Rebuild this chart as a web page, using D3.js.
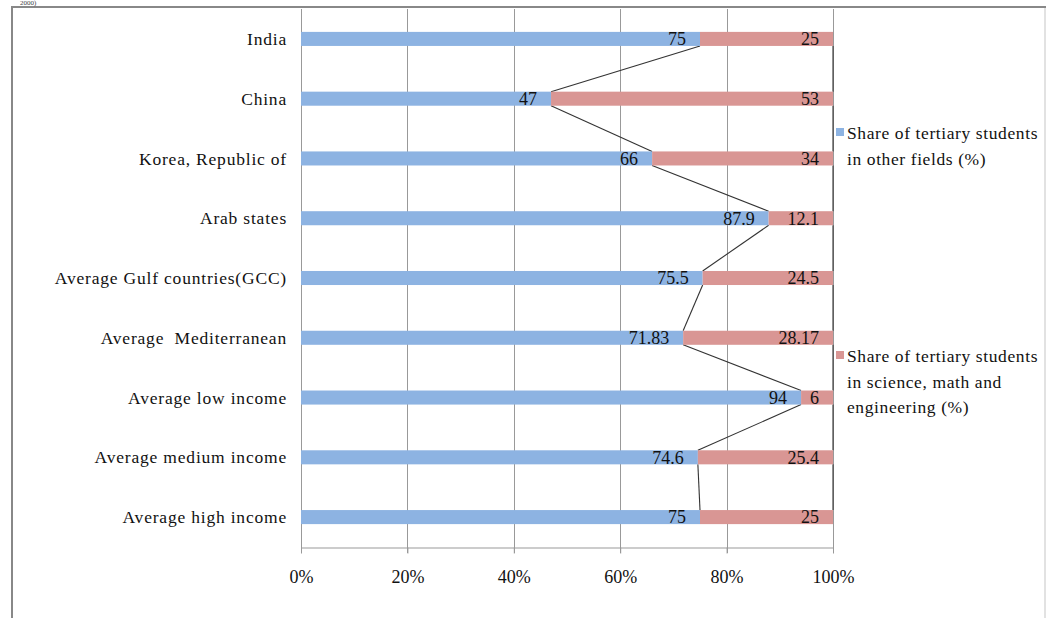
<!DOCTYPE html>
<html><head><meta charset="utf-8">
<script src="https://cdn.jsdelivr.net/npm/d3@7"></script>
<style>body{margin:0;background:#fff;}svg{display:block;}</style>
</head><body>
<svg id="c" width="1046" height="618"></svg>
<script>
const categories = ["India","China","Korea, Republic of","Arab states","Average Gulf countries(GCC)","Average  Mediterranean","Average low income","Average medium income","Average high income"];
const otherFields = [75, 47, 66, 87.9, 75.5, 71.83, 94, 74.6, 75];
const scienceMath = [25, 53, 34, 12.1, 24.5, 28.17, 6, 25.4, 25];
const tickValues = [0, 0.2, 0.4, 0.6, 0.8, 1.0];
const seriesNames = ["Share of tertiary students in other fields (%)", "Share of tertiary students in science, math and engineering (%)"];
const legendLines = [["Share of tertiary students","in other fields (%)"],["Share of tertiary students","in science, math and","engineering (%)"]];
const colors = ["#8db3e2", "#d99694"];

(function(){
const svg = d3.select("#c");
const font = "'Liberation Serif', 'Times New Roman', serif";
const pL = 301, pR = 833, pT = 9, pB = 547;

// frame
svg.append("path").attr("d", "M12,618 V7 H1046").attr("fill","none").attr("stroke","#888").attr("stroke-width",2);
svg.append("line").attr("x1",1045).attr("x2",1045).attr("y1",8).attr("y2",618).attr("stroke","#d9d9d9").attr("stroke-width",1.5);
svg.append("text").attr("x",20).attr("y",5).attr("font-family",font).attr("font-size",7).attr("fill","#444").text("2000)");

const x = d3.scaleLinear().domain([0,1]).range([pL,pR]);
const y = d3.scaleBand().domain(categories).range([pT,pB]).paddingInner(0.765).paddingOuter(0.383);

// gridlines
svg.append("g").selectAll("line").data(tickValues).join("line")
  .attr("x1",d=>Math.round(x(d))+0.5).attr("x2",d=>Math.round(x(d))+0.5)
  .attr("y1",pT).attr("y2",pB+6).attr("stroke","#999").attr("stroke-width",1);

// x axis
const xAxis = d3.axisBottom(x).tickValues(tickValues).tickFormat(d3.format(".0%")).tickSize(6).tickSizeOuter(0);
const gx = svg.append("g").attr("transform",`translate(0,${pB+0.5})`).call(xAxis);
gx.select(".domain").attr("stroke","#999");
gx.selectAll(".tick line").attr("stroke","#999");
gx.selectAll("text").attr("font-family",font).attr("font-size",18).attr("fill","#111").attr("dy","1.45em");

// y axis line
svg.append("line").attr("x1",pL+0.5).attr("x2",pL+0.5).attr("y1",pT).attr("y2",pB+6).attr("stroke","#999");

// category labels
svg.append("g").selectAll("text").data(categories).join("text")
  .attr("x",287).attr("y",d=>y(d)+y.bandwidth()/2).attr("dy","0.35em")
  .attr("text-anchor","end").attr("font-family",font).attr("font-size",17.5).attr("fill","#111")
  .attr("letter-spacing",0.8)
  .style("white-space","pre")
  .text(d=>d);

const rows = categories.map((c,i)=>({cat:c, a:otherFields[i]/100, b:scienceMath[i]/100, la:otherFields[i], lb:scienceMath[i]}));

// series lines
const ln = svg.append("g").attr("stroke","#333").attr("stroke-width",1.1).attr("fill","none");
for (let i=0;i<rows.length-1;i++){
  const y1 = y(rows[i].cat)+y.bandwidth(), y2 = y(rows[i+1].cat);
  ln.append("line").attr("x1",x(rows[i].a)).attr("y1",y1).attr("x2",x(rows[i+1].a)).attr("y2",y2);
  ln.append("line").attr("x1",x(rows[i].a+rows[i].b)).attr("y1",y1).attr("x2",x(rows[i+1].a+rows[i+1].b)).attr("y2",y2);
}

const bars = svg.append("g");
bars.selectAll("rect.a").data(rows).join("rect").attr("class","a")
  .attr("x",x(0)).attr("y",d=>y(d.cat)).attr("width",d=>x(d.a)-x(0)).attr("height",y.bandwidth()).attr("fill",colors[0]);
bars.selectAll("rect.b").data(rows).join("rect").attr("class","b")
  .attr("x",d=>x(d.a)).attr("y",d=>y(d.cat)).attr("width",d=>x(d.a+d.b)-x(d.a)).attr("height",y.bandwidth()).attr("fill",colors[1]);

const lab = svg.append("g").attr("font-family",font).attr("font-size",18).attr("fill","#111").attr("text-anchor","end");
lab.selectAll("text.a").data(rows).join("text").attr("class","a")
  .attr("x",d=>x(d.a)-14).attr("y",d=>y(d.cat)+y.bandwidth()/2).attr("dy","0.35em").text(d=>d.la);
lab.selectAll("text.b").data(rows).join("text").attr("class","b")
  .attr("x",d=>x(d.a+d.b)-14).attr("y",d=>y(d.cat)+y.bandwidth()/2).attr("dy","0.35em").text(d=>d.lb);

// legend
const legY = [133, 356];
legendLines.forEach((lines,k)=>{
  const g = svg.append("g").attr("transform",`translate(836,${legY[k]})`);
  g.append("rect").attr("x",0).attr("y",-5).attr("width",8).attr("height",8).attr("fill",colors[k]);
  lines.forEach((t,j)=>g.append("text").attr("x",11).attr("y",j*25.5).attr("dy","0.35em")
    .attr("font-family",font).attr("font-size",17.5).attr("letter-spacing",0.6).attr("fill","#111").text(t));
});
})();
</script>
</body></html>
